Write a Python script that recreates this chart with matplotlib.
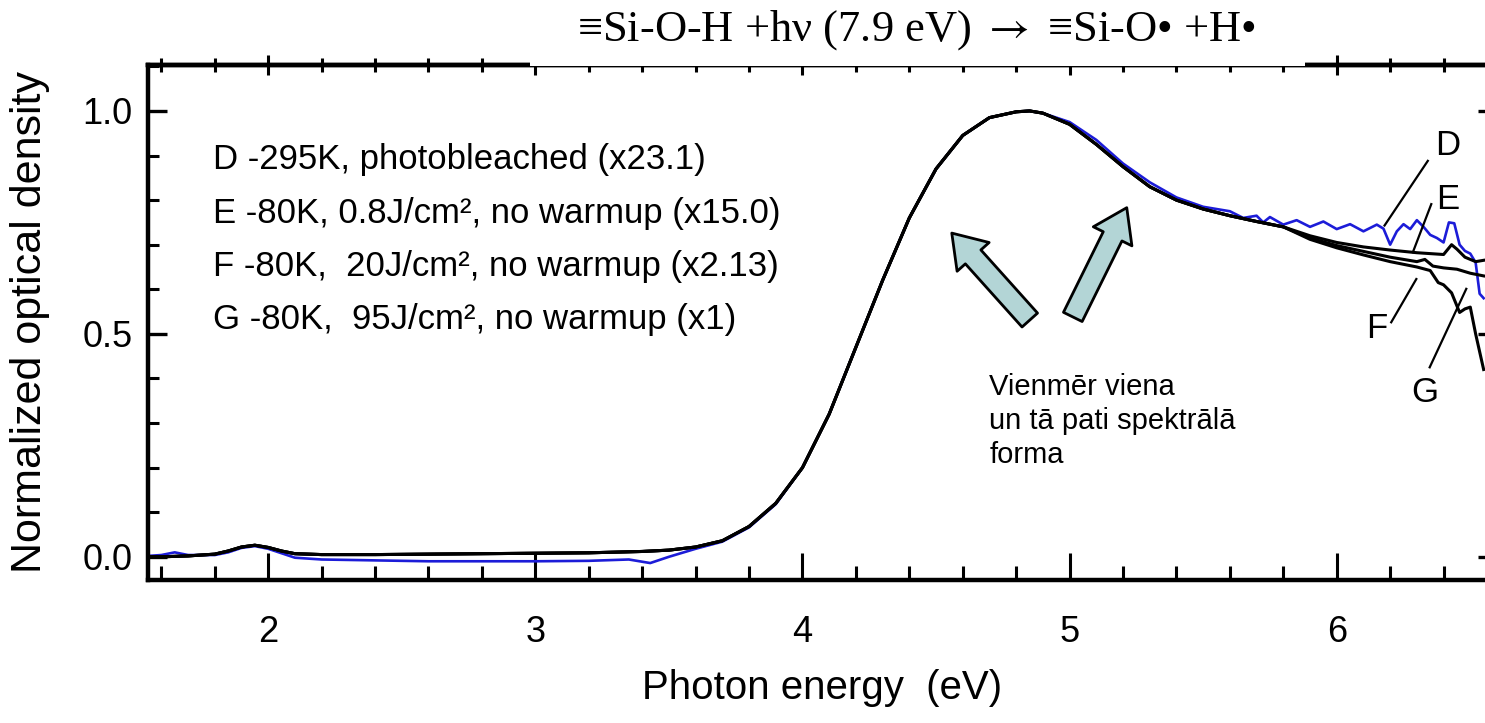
import matplotlib
matplotlib.use('Agg')
import matplotlib.pyplot as plt
from matplotlib.patches import Rectangle, FancyArrowPatch
from matplotlib.ticker import MultipleLocator

plt.rcParams['font.family'] = ['Liberation Sans', 'DejaVu Sans']
plt.rcParams['mathtext.fontset'] = 'stix'

# kopeja forma (E, F, G sakrit lidz ~5.8 eV)
x_main = [1.55, 1.6, 1.7, 1.8, 1.85, 1.9, 1.95, 2.0, 2.05, 2.1, 2.2, 2.4, 2.6, 2.8,
          3.0, 3.2, 3.4, 3.5, 3.6, 3.7, 3.8, 3.9, 4.0, 4.1, 4.2, 4.3, 4.4, 4.5,
          4.6, 4.7, 4.8, 4.85, 4.9, 5.0, 5.1, 5.2, 5.3, 5.4, 5.5, 5.6, 5.7, 5.8]
y_main = [0.0, 0.0, 0.002, 0.006, 0.013, 0.022, 0.026, 0.021, 0.013, 0.007, 0.005,
          0.005, 0.006, 0.007, 0.008, 0.009, 0.012, 0.015, 0.022, 0.036, 0.068,
          0.12, 0.2, 0.32, 0.47, 0.62, 0.76, 0.87, 0.945, 0.985, 0.998, 1.0, 0.995,
          0.97, 0.925, 0.875, 0.83, 0.8, 0.78, 0.765, 0.752, 0.74]

# D - zila, troksnaina
x_D = [1.55, 1.6, 1.65, 1.7, 1.8, 1.85, 1.9, 1.95, 2.0, 2.05, 2.1, 2.2, 2.4, 2.6,
       2.8, 3.0, 3.2, 3.35, 3.43, 3.5, 3.6, 3.7, 3.8, 3.9, 4.0, 4.1, 4.2, 4.3,
       4.4, 4.5, 4.6, 4.7, 4.8, 4.85, 4.9, 5.0, 5.1, 5.2, 5.3, 5.4, 5.5, 5.55,
       5.6, 5.65, 5.7, 5.725, 5.75, 5.8, 5.85, 5.9, 5.95, 6.0, 6.05, 6.1, 6.15,
       6.175, 6.2, 6.225, 6.25, 6.275, 6.3, 6.325, 6.35, 6.375, 6.4, 6.42, 6.44,
       6.46, 6.48, 6.5, 6.52, 6.535, 6.55]
y_D = [0.002, 0.004, 0.01, 0.004, 0.004, 0.01, 0.02, 0.024, 0.018, 0.008, -0.002,
       -0.006, -0.008, -0.01, -0.01, -0.01, -0.009, -0.006, -0.014, 0.0, 0.018,
       0.034, 0.066, 0.118, 0.2, 0.32, 0.47, 0.62, 0.76, 0.87, 0.945, 0.985,
       0.998, 1.0, 0.995, 0.975, 0.935, 0.882, 0.84, 0.806, 0.785, 0.78, 0.775,
       0.76, 0.765, 0.75, 0.762, 0.745, 0.755, 0.74, 0.752, 0.735, 0.746, 0.73,
       0.745, 0.736, 0.70, 0.73, 0.746, 0.735, 0.755, 0.74, 0.722, 0.715, 0.705,
       0.75, 0.748, 0.70, 0.686, 0.68, 0.66, 0.59, 0.58]

# E, F, G aste
x_E = [5.8, 5.9, 6.0, 6.1, 6.2, 6.3, 6.4, 6.43, 6.45, 6.48, 6.52, 6.55]
y_E = [0.74, 0.72, 0.705, 0.695, 0.688, 0.682, 0.678, 0.70, 0.69, 0.672, 0.662, 0.665]
x_F = [5.8, 5.9, 6.0, 6.1, 6.2, 6.25, 6.3, 6.33, 6.36, 6.4, 6.45, 6.5, 6.55]
y_F = [0.74, 0.715, 0.698, 0.685, 0.672, 0.667, 0.662, 0.667, 0.652, 0.648, 0.645,
       0.636, 0.63]
x_G = [5.8, 5.9, 6.0, 6.1, 6.2, 6.3, 6.35, 6.38, 6.4, 6.43, 6.46, 6.48, 6.5,
       6.52, 6.55]
y_G = [0.74, 0.712, 0.693, 0.677, 0.662, 0.65, 0.642, 0.615, 0.61, 0.592, 0.548,
       0.556, 0.56, 0.5, 0.42]

legend_lines = ['D -295K, photobleached (x23.1)',
                'E -80K, 0.8J/cm², no warmup (x15.0)',
                'F -80K,  20J/cm², no warmup (x2.13)',
                'G -80K,  95J/cm², no warmup (x1)']
legend_y = [0.869, 0.748, 0.630, 0.512]

note_lines = ['Vienmēr viena', 'un tā pati spektrālā', 'forma']
note_y = [0.363, 0.287, 0.211]

W, H = 1485, 723
fig = plt.figure(figsize=(W / 100, H / 100), dpi=100)
ax = fig.add_axes([148 / W, (H - 580) / H, (1497 - 148) / W, (580 - 65) / H])

ax.plot(x_D, y_D, color='#1c1cd8', lw=1.9, zorder=2)
for xs, ys in [(x_main + x_E[1:], y_main + y_E[1:]),
               (x_main + x_F[1:], y_main + y_F[1:]),
               (x_main + x_G[1:], y_main + y_G[1:])]:
    ax.plot(xs, ys, color='black', lw=2.2, zorder=3)

ax.set_xlim(1.55, 6.6)
ax.set_ylim(-0.052, 1.103)

for s in ax.spines.values():
    s.set_linewidth(3.2)
ax.xaxis.set_major_locator(MultipleLocator(1))
ax.xaxis.set_minor_locator(MultipleLocator(0.2))
ax.yaxis.set_minor_locator(MultipleLocator(0.1))
ax.set_yticks([0, 0.5, 1.0])
ax.set_yticklabels(['0.0', '0.5', '1.0'])
ax.tick_params(axis='x', which='major', direction='in', length=19.5, width=2.2,
               pad=25, labelsize=26)
ax.tick_params(axis='x', which='minor', direction='in', length=10, width=2.2)
ax.tick_params(axis='y', which='major', direction='in', length=14, width=2.4,
               pad=11, labelsize=26, right=True)
ax.tick_params(axis='y', which='minor', direction='in', length=8, width=2.2,
               right=True)

top = ax.secondary_xaxis('top')
top.spines['top'].set_linewidth(3.2)
top.xaxis.set_major_locator(MultipleLocator(1))
top.xaxis.set_minor_locator(MultipleLocator(0.2))
top.tick_params(which='major', direction='inout', length=15, width=2.2,
                labeltop=False)
top.tick_params(which='minor', direction='inout', length=9.5, width=2.2)

for txt, yy in zip(legend_lines, legend_y):
    ax.text(2.0 - (268 - 213) / 267.25, yy, txt, fontsize=25,
            va='baseline', ha='left')

# bultas
for (x0, y0), (x1, y1) in [((4.851, 0.531), (4.559, 0.726)),
                           ((5.012, 0.538), (5.214, 0.783))]:
    ax.add_patch(FancyArrowPatch((x0, y0), (x1, y1),
                                 arrowstyle='simple,head_width=3.1,head_length=2.3,tail_width=1.5',
                                 mutation_scale=10, fc='#b3d5d6', ec='black',
                                 lw=2, shrinkA=0, shrinkB=0, zorder=4))

for txt, yy in zip(note_lines, note_y):
    ax.text(4.70, yy, txt, fontsize=21, va='baseline', ha='left')

# burti labaja puse
for lab, (tx, ty), (a, b) in [('D', (6.416, 0.922), ((6.341, 0.888), (6.179, 0.743))),
                              ('E', (6.416, 0.802), ((6.354, 0.791), (6.285, 0.683))),
                              ('F', (6.148, 0.511), ((6.204, 0.526), (6.298, 0.623))),
                              ('G', (6.329, 0.369), ((6.348, 0.425), (6.485, 0.601)))]:
    ax.text(tx, ty, lab, fontsize=25, ha='center', va='center')
    ax.plot([a[0], b[0]], [a[1], b[1]], color='black', lw=1.6, zorder=5)

fig.text(822 / W, (H - 688) / H, 'Photon energy  (eV)', fontsize=29,
         ha='center', va='center')
fig.text(30 / W, (H - 322) / H, 'Normalized optical density', fontsize=31,
         rotation=90, ha='center', va='center')

# balts lauks zem virsraksta nosedz augsejo asi
fig.add_artist(Rectangle((530 / W, (H - 65.5) / H), (1305 - 530) / W, 65.5 / H,
                         transform=fig.transFigure, fc='white', ec='none',
                         zorder=10))
fig.text(916 / W, (H - 30) / H,
         '≡Si-O-H +hν (7.9 eV) $\\rightarrow$ ≡Si-O• +H•',
         family=['Liberation Serif', 'DejaVu Serif'], fontsize=32,
         ha='center', va='center', zorder=11)

fig.savefig('out.png', dpi=100)
